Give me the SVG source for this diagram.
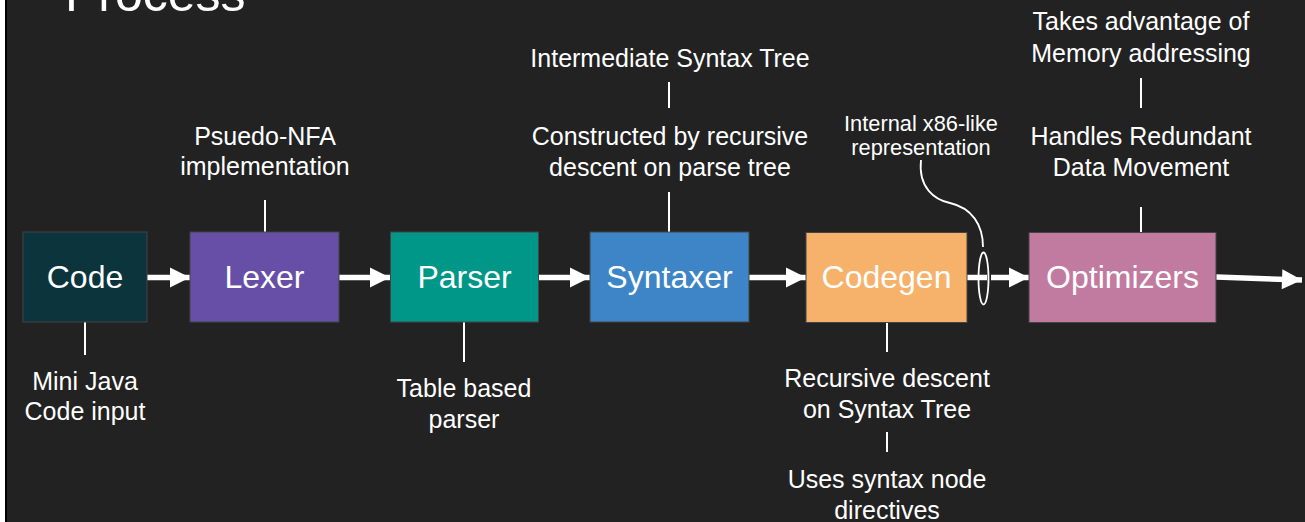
<svg xmlns="http://www.w3.org/2000/svg" width="1305" height="522" viewBox="0 0 1305 522">
<defs>
<marker id="ah" markerUnits="userSpaceOnUse" markerWidth="22" markerHeight="22" refX="20" refY="10" orient="auto" overflow="visible">
<path d="M0,0 L20,10 L0,20 z" fill="#ffffff"/>
</marker>
<style>
.box{stroke:#444444;stroke-width:1}
.bt{font-family:"Liberation Sans",Arial,sans-serif;font-size:32px;fill:#ffffff;text-anchor:middle}
.lb{font-family:"Liberation Sans",Arial,sans-serif;font-size:25px;fill:#ffffff;text-anchor:middle}
.sm{font-family:"Liberation Sans",Arial,sans-serif;font-size:21.8px;fill:#ffffff;text-anchor:middle}
.ar{stroke:#ffffff;stroke-width:5.5;fill:none;marker-end:url(#ah)}
.ln{stroke:#ffffff;stroke-width:2;fill:none}
.cv{stroke:#ffffff;stroke-width:1.8;fill:none}
</style>
</defs>
<rect x="0" y="0" width="1305" height="522" fill="#222222"/>
<rect x="0" y="0" width="5" height="522" fill="#ffffff"/>
<rect x="5" y="0" width="2" height="522" fill="#000000"/>
<text x="65" y="11" font-family="Liberation Sans, Arial, sans-serif" font-size="50" fill="#ffffff">Process</text>

<g id="connectors">
<line class="ar" x1="147" y1="277.5" x2="190" y2="277.5"/>
<line class="ar" x1="339" y1="277.5" x2="390" y2="277.5"/>
<line class="ar" x1="538" y1="277.5" x2="590" y2="277.5"/>
<line class="ar" x1="749" y1="277.5" x2="806" y2="277.5"/>
<line x1="967" y1="277.5" x2="987" y2="277.5" stroke="#ffffff" stroke-width="5.5"/>
<line class="ar" x1="991" y1="277.5" x2="1029" y2="277.5"/>
<line class="ar" x1="1216" y1="277" x2="1302" y2="280"/>
<line class="ln" x1="85" y1="322" x2="85" y2="355"/>
<line class="ln" x1="265" y1="200" x2="265" y2="232"/>
<line class="ln" x1="464" y1="322" x2="464" y2="362"/>
<line class="ln" x1="669" y1="82" x2="669" y2="108"/>
<line class="ln" x1="669" y1="192" x2="669" y2="232"/>
<line class="ln" x1="887" y1="323" x2="887" y2="352"/>
<line class="ln" x1="887" y1="432" x2="887" y2="452"/>
<line class="ln" x1="1141" y1="78" x2="1141" y2="108"/>
<line class="ln" x1="1141" y1="207" x2="1141" y2="233"/>
<path class="cv" d="M921,160 C918,188 935,200 950,203 C972,208 983,225 983,247"/>
<ellipse class="cv" cx="983.5" cy="278.5" rx="5" ry="26"/>
</g>

<g id="code">
<rect class="box" x="23" y="232" width="124" height="90" fill="#0c343d"/>
<text class="bt" x="85" y="288">Code</text>
<text class="lb" x="85" y="390">Mini Java</text>
<text class="lb" x="85" y="420">Code input</text>
</g>
<g id="lexer">
<rect class="box" x="190" y="232" width="149" height="90" fill="#674ea7"/>
<text class="bt" x="264.5" y="288">Lexer</text>
<text class="lb" x="265" y="145">Psuedo-NFA</text>
<text class="lb" x="265" y="175">implementation</text>
</g>
<g id="parser">
<rect class="box" x="390.5" y="232" width="148" height="90" fill="#009688"/>
<text class="bt" x="464.5" y="288">Parser</text>
<text class="lb" x="464" y="397">Table based</text>
<text class="lb" x="464" y="428">parser</text>
</g>
<g id="syntaxer">
<rect class="box" x="590" y="232" width="159" height="90" fill="#3d85c6"/>
<text class="bt" x="669.5" y="288">Syntaxer</text>
<text class="lb" x="670" y="67">Intermediate Syntax Tree</text>
<text class="lb" x="670" y="145">Constructed by recursive</text>
<text class="lb" x="670" y="175.5">descent on parse tree</text>
</g>
<g id="codegen">
<rect class="box" x="806" y="232.5" width="161" height="90" fill="#f6b26b"/>
<text class="bt" x="886.5" y="288">Codegen</text>
<text class="lb" x="887" y="387">Recursive descent</text>
<text class="lb" x="887" y="417.5">on Syntax Tree</text>
<text class="lb" x="887" y="488">Uses syntax node</text>
<text class="lb" x="887" y="518.5">directives</text>
</g>
<g id="internal">
<text class="sm" x="921" y="131">Internal x86-like</text>
<text class="sm" x="921" y="155">representation</text>
</g>
<g id="optimizers">
<rect class="box" x="1029" y="232.5" width="187" height="90" fill="#c27ba0"/>
<text class="bt" x="1122.5" y="288">Optimizers</text>
<text class="lb" x="1141" y="30">Takes advantage of</text>
<text class="lb" x="1141" y="62">Memory addressing</text>
<text class="lb" x="1141" y="145">Handles Redundant</text>
<text class="lb" x="1141" y="176">Data Movement</text>
</g>
</svg>
